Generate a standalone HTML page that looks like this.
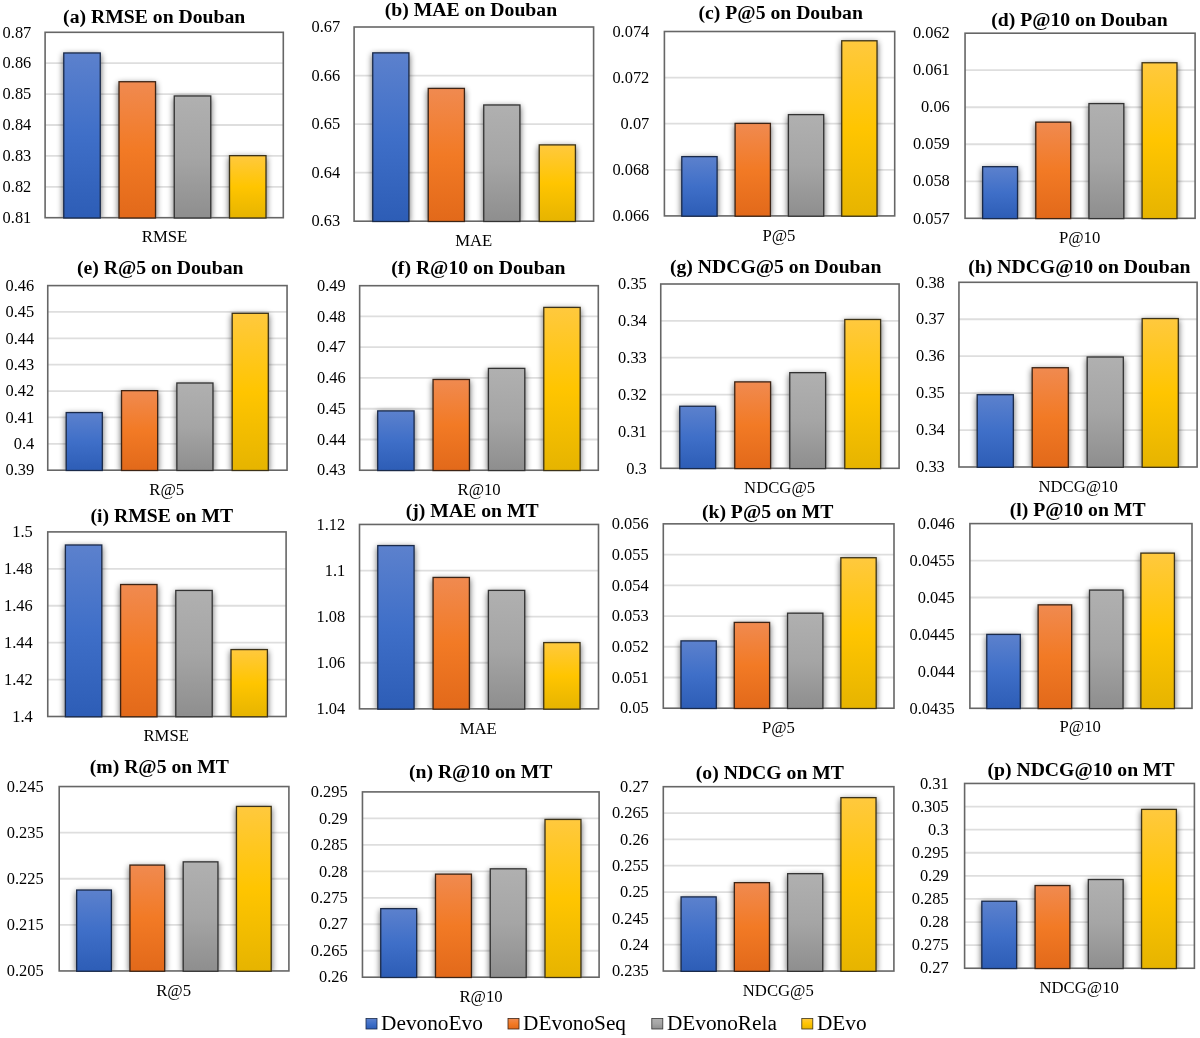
<!DOCTYPE html>
<html><head><meta charset="utf-8"><style>
html,body{margin:0;padding:0;background:#fff;}
svg{display:block;filter:blur(0.3px);}
text{font-family:"Liberation Serif",serif;fill:#000;}
.t{font-weight:bold;font-size:19.7px;}
.y{font-size:16.4px;fill:#000;}
.x{font-size:16.7px;fill:#000;}
.lg{font-size:21.3px;fill:#000;}
</style></head><body>
<svg width="1200" height="1038" viewBox="0 0 1200 1038">
<defs>
<filter id="sh" x="-40%" y="-20%" width="180%" height="140%">
<feGaussianBlur in="SourceAlpha" stdDeviation="3"/><feOffset dy="1.5"/>
<feComponentTransfer><feFuncA type="linear" slope="0.62"/></feComponentTransfer>
</filter>

<linearGradient id="g0" x1="0" y1="0" x2="0" y2="1"><stop offset="0" stop-color="#5c81cd"/><stop offset="0.5" stop-color="#3f6fc8"/><stop offset="1" stop-color="#2d5db6"/></linearGradient>
<linearGradient id="g1" x1="0" y1="0" x2="0" y2="1"><stop offset="0" stop-color="#f08a50"/><stop offset="0.5" stop-color="#f27a25"/><stop offset="1" stop-color="#e2691a"/></linearGradient>
<linearGradient id="g2" x1="0" y1="0" x2="0" y2="1"><stop offset="0" stop-color="#b0b0b0"/><stop offset="0.5" stop-color="#a5a5a5"/><stop offset="1" stop-color="#8e8e8e"/></linearGradient>
<linearGradient id="g3" x1="0" y1="0" x2="0" y2="1"><stop offset="0" stop-color="#ffc93e"/><stop offset="0.5" stop-color="#ffc500"/><stop offset="1" stop-color="#e6b400"/></linearGradient>
</defs>
<rect width="1200" height="1038" fill="#fff"/>
<clipPath id="ca"><rect x="45.1" y="32.3" width="238.2" height="185.4"/></clipPath>
<g><line x1="45.1" y1="186.8" x2="283.3" y2="186.8" stroke="#dedede" stroke-width="1.8"/><line x1="45.1" y1="155.9" x2="283.3" y2="155.9" stroke="#dedede" stroke-width="1.8"/><line x1="45.1" y1="125" x2="283.3" y2="125" stroke="#dedede" stroke-width="1.8"/><line x1="45.1" y1="94.1" x2="283.3" y2="94.1" stroke="#dedede" stroke-width="1.8"/><line x1="45.1" y1="63.2" x2="283.3" y2="63.2" stroke="#dedede" stroke-width="1.8"/><g clip-path="url(#ca)"><rect x="63.12" y="52.32" width="37.79" height="165.38" fill="#000" filter="url(#sh)"/><rect x="118.36" y="81.08" width="37.79" height="136.62" fill="#000" filter="url(#sh)"/><rect x="173.61" y="95.31" width="37.79" height="122.39" fill="#000" filter="url(#sh)"/><rect x="228.86" y="155.01" width="37.79" height="62.69" fill="#000" filter="url(#sh)"/></g>
<rect x="45.1" y="32.3" width="238.2" height="185.4" fill="none" stroke="#666" stroke-width="1.6"/>
<rect x="63.77" y="52.97" width="36.49" height="165.03" fill="url(#g0)" stroke="#1a2a4a" stroke-width="1.3"/><rect x="119.02" y="81.73" width="36.49" height="136.27" fill="url(#g1)" stroke="#3d2415" stroke-width="1.3"/><rect x="174.26" y="95.96" width="36.49" height="122.04" fill="url(#g2)" stroke="#333333" stroke-width="1.3"/><rect x="229.51" y="155.66" width="36.49" height="62.34" fill="url(#g3)" stroke="#3d3318" stroke-width="1.3"/></g>
<text class="y" x="31.3" y="222.9" text-anchor="end">0.81</text>
<text class="y" x="31.3" y="192" text-anchor="end">0.82</text>
<text class="y" x="31.3" y="161.1" text-anchor="end">0.83</text>
<text class="y" x="31.3" y="130.2" text-anchor="end">0.84</text>
<text class="y" x="31.3" y="99.3" text-anchor="end">0.85</text>
<text class="y" x="31.3" y="68.4" text-anchor="end">0.86</text>
<text class="y" x="31.3" y="37.5" text-anchor="end">0.87</text>
<text class="x" x="164.5" y="241.8" text-anchor="middle">RMSE</text>
<text class="t" x="154.2" y="22.7" text-anchor="middle">(a) RMSE on Douban</text>
<clipPath id="cb"><rect x="354.1" y="27" width="239.5" height="194.2"/></clipPath>
<g><line x1="354.1" y1="172.65" x2="593.6" y2="172.65" stroke="#dedede" stroke-width="1.8"/><line x1="354.1" y1="124.1" x2="593.6" y2="124.1" stroke="#dedede" stroke-width="1.8"/><line x1="354.1" y1="75.55" x2="593.6" y2="75.55" stroke="#dedede" stroke-width="1.8"/><g clip-path="url(#cb)"><rect x="372.09" y="52.21" width="37.47" height="168.99" fill="#000" filter="url(#sh)"/><rect x="427.59" y="87.76" width="37.47" height="133.44" fill="#000" filter="url(#sh)"/><rect x="483.09" y="104.32" width="37.47" height="116.88" fill="#000" filter="url(#sh)"/><rect x="538.59" y="144.25" width="37.47" height="76.95" fill="#000" filter="url(#sh)"/></g>
<rect x="354.1" y="27" width="239.5" height="194.2" fill="none" stroke="#666" stroke-width="1.6"/>
<rect x="372.74" y="52.86" width="36.17" height="168.64" fill="url(#g0)" stroke="#1a2a4a" stroke-width="1.3"/><rect x="428.24" y="88.41" width="36.17" height="133.09" fill="url(#g1)" stroke="#3d2415" stroke-width="1.3"/><rect x="483.74" y="104.97" width="36.17" height="116.53" fill="url(#g2)" stroke="#333333" stroke-width="1.3"/><rect x="539.24" y="144.9" width="36.17" height="76.6" fill="url(#g3)" stroke="#3d3318" stroke-width="1.3"/></g>
<text class="y" x="340.2" y="226.4" text-anchor="end">0.63</text>
<text class="y" x="340.2" y="177.85" text-anchor="end">0.64</text>
<text class="y" x="340.2" y="129.3" text-anchor="end">0.65</text>
<text class="y" x="340.2" y="80.75" text-anchor="end">0.66</text>
<text class="y" x="340.2" y="32.2" text-anchor="end">0.67</text>
<text class="x" x="473.75" y="246" text-anchor="middle">MAE</text>
<text class="t" x="470.95" y="15.8" text-anchor="middle">(b) MAE on Douban</text>
<clipPath id="cc"><rect x="664.4" y="31.5" width="230.3" height="184.4"/></clipPath>
<g><line x1="664.4" y1="169.8" x2="894.7" y2="169.8" stroke="#dedede" stroke-width="1.8"/><line x1="664.4" y1="123.7" x2="894.7" y2="123.7" stroke="#dedede" stroke-width="1.8"/><line x1="664.4" y1="77.6" x2="894.7" y2="77.6" stroke="#dedede" stroke-width="1.8"/><g clip-path="url(#cc)"><rect x="681.14" y="155.97" width="36.6" height="59.93" fill="#000" filter="url(#sh)"/><rect x="734.45" y="122.74" width="36.6" height="93.16" fill="#000" filter="url(#sh)"/><rect x="787.76" y="113.97" width="36.6" height="101.93" fill="#000" filter="url(#sh)"/><rect x="841.07" y="40.13" width="36.6" height="175.77" fill="#000" filter="url(#sh)"/></g>
<rect x="664.4" y="31.5" width="230.3" height="184.4" fill="none" stroke="#666" stroke-width="1.6"/>
<rect x="681.79" y="156.62" width="35.3" height="59.58" fill="url(#g0)" stroke="#1a2a4a" stroke-width="1.3"/><rect x="735.1" y="123.39" width="35.3" height="92.81" fill="url(#g1)" stroke="#3d2415" stroke-width="1.3"/><rect x="788.41" y="114.62" width="35.3" height="101.58" fill="url(#g2)" stroke="#333333" stroke-width="1.3"/><rect x="841.72" y="40.78" width="35.3" height="175.42" fill="url(#g3)" stroke="#3d3318" stroke-width="1.3"/></g>
<text class="y" x="649.3" y="221.1" text-anchor="end">0.066</text>
<text class="y" x="649.3" y="175" text-anchor="end">0.068</text>
<text class="y" x="649.3" y="128.9" text-anchor="end">0.07</text>
<text class="y" x="649.3" y="82.8" text-anchor="end">0.072</text>
<text class="y" x="649.3" y="36.7" text-anchor="end">0.074</text>
<text class="x" x="778.9" y="240.8" text-anchor="middle">P@5</text>
<text class="t" x="780.75" y="19.2" text-anchor="middle">(c) P@5 on Douban</text>
<clipPath id="cd"><rect x="965.05" y="33.2" width="230.05" height="185.1"/></clipPath>
<g><line x1="965.05" y1="181.28" x2="1195.1" y2="181.28" stroke="#dedede" stroke-width="1.8"/><line x1="965.05" y1="144.26" x2="1195.1" y2="144.26" stroke="#dedede" stroke-width="1.8"/><line x1="965.05" y1="107.24" x2="1195.1" y2="107.24" stroke="#dedede" stroke-width="1.8"/><line x1="965.05" y1="70.22" x2="1195.1" y2="70.22" stroke="#dedede" stroke-width="1.8"/><g clip-path="url(#cd)"><rect x="981.99" y="166.03" width="36.18" height="52.27" fill="#000" filter="url(#sh)"/><rect x="1035.14" y="121.49" width="36.18" height="96.81" fill="#000" filter="url(#sh)"/><rect x="1088.29" y="102.93" width="36.18" height="115.37" fill="#000" filter="url(#sh)"/><rect x="1141.44" y="62.1" width="36.18" height="156.2" fill="#000" filter="url(#sh)"/></g>
<rect x="965.05" y="33.2" width="230.05" height="185.1" fill="none" stroke="#666" stroke-width="1.6"/>
<rect x="982.64" y="166.68" width="34.88" height="51.92" fill="url(#g0)" stroke="#1a2a4a" stroke-width="1.3"/><rect x="1035.79" y="122.14" width="34.88" height="96.46" fill="url(#g1)" stroke="#3d2415" stroke-width="1.3"/><rect x="1088.94" y="103.58" width="34.88" height="115.02" fill="url(#g2)" stroke="#333333" stroke-width="1.3"/><rect x="1142.09" y="62.75" width="34.88" height="155.85" fill="url(#g3)" stroke="#3d3318" stroke-width="1.3"/></g>
<text class="y" x="949.8" y="223.5" text-anchor="end">0.057</text>
<text class="y" x="949.8" y="186.48" text-anchor="end">0.058</text>
<text class="y" x="949.8" y="149.46" text-anchor="end">0.059</text>
<text class="y" x="949.8" y="112.44" text-anchor="end">0.06</text>
<text class="y" x="949.8" y="75.42" text-anchor="end">0.061</text>
<text class="y" x="949.8" y="38.4" text-anchor="end">0.062</text>
<text class="x" x="1079.6" y="243" text-anchor="middle">P@10</text>
<text class="t" x="1079.4" y="25.5" text-anchor="middle">(d) P@10 on Douban</text>
<clipPath id="ce"><rect x="47.75" y="285.6" width="239.3" height="184.6"/></clipPath>
<g><line x1="47.75" y1="443.83" x2="287.05" y2="443.83" stroke="#dedede" stroke-width="1.8"/><line x1="47.75" y1="417.46" x2="287.05" y2="417.46" stroke="#dedede" stroke-width="1.8"/><line x1="47.75" y1="391.09" x2="287.05" y2="391.09" stroke="#dedede" stroke-width="1.8"/><line x1="47.75" y1="364.71" x2="287.05" y2="364.71" stroke="#dedede" stroke-width="1.8"/><line x1="47.75" y1="338.34" x2="287.05" y2="338.34" stroke="#dedede" stroke-width="1.8"/><line x1="47.75" y1="311.97" x2="287.05" y2="311.97" stroke="#dedede" stroke-width="1.8"/><g clip-path="url(#ce)"><rect x="65.56" y="411.92" width="37.4" height="58.28" fill="#000" filter="url(#sh)"/><rect x="120.89" y="390.01" width="37.4" height="80.19" fill="#000" filter="url(#sh)"/><rect x="176.22" y="382.35" width="37.4" height="87.85" fill="#000" filter="url(#sh)"/><rect x="231.55" y="312.66" width="37.4" height="157.54" fill="#000" filter="url(#sh)"/></g>
<rect x="47.75" y="285.6" width="239.3" height="184.6" fill="none" stroke="#666" stroke-width="1.6"/>
<rect x="66.21" y="412.57" width="36.1" height="57.93" fill="url(#g0)" stroke="#1a2a4a" stroke-width="1.3"/><rect x="121.54" y="390.66" width="36.1" height="79.84" fill="url(#g1)" stroke="#3d2415" stroke-width="1.3"/><rect x="176.87" y="383" width="36.1" height="87.5" fill="url(#g2)" stroke="#333333" stroke-width="1.3"/><rect x="232.2" y="313.31" width="36.1" height="157.19" fill="url(#g3)" stroke="#3d3318" stroke-width="1.3"/></g>
<text class="y" x="34.25" y="475.4" text-anchor="end">0.39</text>
<text class="y" x="34.25" y="449.03" text-anchor="end">0.4</text>
<text class="y" x="34.25" y="422.66" text-anchor="end">0.41</text>
<text class="y" x="34.25" y="396.29" text-anchor="end">0.42</text>
<text class="y" x="34.25" y="369.91" text-anchor="end">0.43</text>
<text class="y" x="34.25" y="343.54" text-anchor="end">0.44</text>
<text class="y" x="34.25" y="317.17" text-anchor="end">0.45</text>
<text class="y" x="34.25" y="290.8" text-anchor="end">0.46</text>
<text class="x" x="166.75" y="494.5" text-anchor="middle">R@5</text>
<text class="t" x="160.3" y="274" text-anchor="middle">(e) R@5 on Douban</text>
<clipPath id="cf"><rect x="359.65" y="285.7" width="238.65" height="184.55"/></clipPath>
<g><line x1="359.65" y1="439.49" x2="598.3" y2="439.49" stroke="#dedede" stroke-width="1.8"/><line x1="359.65" y1="408.73" x2="598.3" y2="408.73" stroke="#dedede" stroke-width="1.8"/><line x1="359.65" y1="377.97" x2="598.3" y2="377.97" stroke="#dedede" stroke-width="1.8"/><line x1="359.65" y1="347.22" x2="598.3" y2="347.22" stroke="#dedede" stroke-width="1.8"/><line x1="359.65" y1="316.46" x2="598.3" y2="316.46" stroke="#dedede" stroke-width="1.8"/><g clip-path="url(#cf)"><rect x="377.05" y="410.25" width="37.68" height="60" fill="#000" filter="url(#sh)"/><rect x="432.41" y="378.83" width="37.68" height="91.42" fill="#000" filter="url(#sh)"/><rect x="487.77" y="367.74" width="37.68" height="102.51" fill="#000" filter="url(#sh)"/><rect x="543.13" y="306.76" width="37.68" height="163.49" fill="#000" filter="url(#sh)"/></g>
<rect x="359.65" y="285.7" width="238.65" height="184.55" fill="none" stroke="#666" stroke-width="1.6"/>
<rect x="377.7" y="410.9" width="36.38" height="59.65" fill="url(#g0)" stroke="#1a2a4a" stroke-width="1.3"/><rect x="433.06" y="379.48" width="36.38" height="91.07" fill="url(#g1)" stroke="#3d2415" stroke-width="1.3"/><rect x="488.42" y="368.39" width="36.38" height="102.16" fill="url(#g2)" stroke="#333333" stroke-width="1.3"/><rect x="543.78" y="307.41" width="36.38" height="163.14" fill="url(#g3)" stroke="#3d3318" stroke-width="1.3"/></g>
<text class="y" x="345.7" y="475.45" text-anchor="end">0.43</text>
<text class="y" x="345.7" y="444.69" text-anchor="end">0.44</text>
<text class="y" x="345.7" y="413.93" text-anchor="end">0.45</text>
<text class="y" x="345.7" y="383.17" text-anchor="end">0.46</text>
<text class="y" x="345.7" y="352.42" text-anchor="end">0.47</text>
<text class="y" x="345.7" y="321.66" text-anchor="end">0.48</text>
<text class="y" x="345.7" y="290.9" text-anchor="end">0.49</text>
<text class="x" x="479.1" y="494.5" text-anchor="middle">R@10</text>
<text class="t" x="478.4" y="274.3" text-anchor="middle">(f) R@10 on Douban</text>
<clipPath id="cg"><rect x="660.75" y="284" width="238.35" height="184.3"/></clipPath>
<g><line x1="660.75" y1="431.44" x2="899.1" y2="431.44" stroke="#dedede" stroke-width="1.8"/><line x1="660.75" y1="394.58" x2="899.1" y2="394.58" stroke="#dedede" stroke-width="1.8"/><line x1="660.75" y1="357.72" x2="899.1" y2="357.72" stroke="#dedede" stroke-width="1.8"/><line x1="660.75" y1="320.86" x2="899.1" y2="320.86" stroke="#dedede" stroke-width="1.8"/><g clip-path="url(#cg)"><rect x="679.1" y="405.61" width="37.13" height="62.69" fill="#000" filter="url(#sh)"/><rect x="734.11" y="381.24" width="37.13" height="87.06" fill="#000" filter="url(#sh)"/><rect x="789.12" y="372.01" width="37.13" height="96.29" fill="#000" filter="url(#sh)"/><rect x="844.13" y="318.84" width="37.13" height="149.46" fill="#000" filter="url(#sh)"/></g>
<rect x="660.75" y="284" width="238.35" height="184.3" fill="none" stroke="#666" stroke-width="1.6"/>
<rect x="679.75" y="406.26" width="35.83" height="62.34" fill="url(#g0)" stroke="#1a2a4a" stroke-width="1.3"/><rect x="734.76" y="381.89" width="35.83" height="86.71" fill="url(#g1)" stroke="#3d2415" stroke-width="1.3"/><rect x="789.77" y="372.66" width="35.83" height="95.94" fill="url(#g2)" stroke="#333333" stroke-width="1.3"/><rect x="844.78" y="319.49" width="35.83" height="149.11" fill="url(#g3)" stroke="#3d3318" stroke-width="1.3"/></g>
<text class="y" x="646.8" y="473.5" text-anchor="end">0.3</text>
<text class="y" x="646.8" y="436.64" text-anchor="end">0.31</text>
<text class="y" x="646.8" y="399.78" text-anchor="end">0.32</text>
<text class="y" x="646.8" y="362.92" text-anchor="end">0.33</text>
<text class="y" x="646.8" y="326.06" text-anchor="end">0.34</text>
<text class="y" x="646.8" y="289.2" text-anchor="end">0.35</text>
<text class="x" x="779.6" y="492.7" text-anchor="middle">NDCG@5</text>
<text class="t" x="775.65" y="272.5" text-anchor="middle">(g) NDCG@5 on Douban</text>
<clipPath id="ch"><rect x="958.95" y="282.3" width="238.15" height="184.7"/></clipPath>
<g><line x1="958.95" y1="430.06" x2="1197.1" y2="430.06" stroke="#dedede" stroke-width="1.8"/><line x1="958.95" y1="393.12" x2="1197.1" y2="393.12" stroke="#dedede" stroke-width="1.8"/><line x1="958.95" y1="356.18" x2="1197.1" y2="356.18" stroke="#dedede" stroke-width="1.8"/><line x1="958.95" y1="319.24" x2="1197.1" y2="319.24" stroke="#dedede" stroke-width="1.8"/><g clip-path="url(#ch)"><rect x="976.56" y="394.06" width="37.42" height="72.94" fill="#000" filter="url(#sh)"/><rect x="1031.55" y="367.08" width="37.42" height="99.92" fill="#000" filter="url(#sh)"/><rect x="1086.54" y="356.36" width="37.42" height="110.64" fill="#000" filter="url(#sh)"/><rect x="1141.53" y="317.92" width="37.42" height="149.08" fill="#000" filter="url(#sh)"/></g>
<rect x="958.95" y="282.3" width="238.15" height="184.7" fill="none" stroke="#666" stroke-width="1.6"/>
<rect x="977.21" y="394.71" width="36.12" height="72.59" fill="url(#g0)" stroke="#1a2a4a" stroke-width="1.3"/><rect x="1032.2" y="367.73" width="36.12" height="99.57" fill="url(#g1)" stroke="#3d2415" stroke-width="1.3"/><rect x="1087.19" y="357.01" width="36.12" height="110.29" fill="url(#g2)" stroke="#333333" stroke-width="1.3"/><rect x="1142.18" y="318.57" width="36.12" height="148.73" fill="url(#g3)" stroke="#3d3318" stroke-width="1.3"/></g>
<text class="y" x="944.8" y="472.2" text-anchor="end">0.33</text>
<text class="y" x="944.8" y="435.26" text-anchor="end">0.34</text>
<text class="y" x="944.8" y="398.32" text-anchor="end">0.35</text>
<text class="y" x="944.8" y="361.38" text-anchor="end">0.36</text>
<text class="y" x="944.8" y="324.44" text-anchor="end">0.37</text>
<text class="y" x="944.8" y="287.5" text-anchor="end">0.38</text>
<text class="x" x="1078.1" y="491.8" text-anchor="middle">NDCG@10</text>
<text class="t" x="1079.4" y="272.5" text-anchor="middle">(h) NDCG@10 on Douban</text>
<clipPath id="ci"><rect x="47.75" y="531.9" width="238.35" height="184.6"/></clipPath>
<g><line x1="47.75" y1="679.58" x2="286.1" y2="679.58" stroke="#dedede" stroke-width="1.8"/><line x1="47.75" y1="642.66" x2="286.1" y2="642.66" stroke="#dedede" stroke-width="1.8"/><line x1="47.75" y1="605.74" x2="286.1" y2="605.74" stroke="#dedede" stroke-width="1.8"/><line x1="47.75" y1="568.82" x2="286.1" y2="568.82" stroke="#dedede" stroke-width="1.8"/><g clip-path="url(#ci)"><rect x="64.75" y="544.34" width="37.7" height="172.16" fill="#000" filter="url(#sh)"/><rect x="119.95" y="583.88" width="37.7" height="132.62" fill="#000" filter="url(#sh)"/><rect x="175.15" y="589.8" width="37.7" height="126.7" fill="#000" filter="url(#sh)"/><rect x="230.35" y="648.93" width="37.7" height="67.57" fill="#000" filter="url(#sh)"/></g>
<rect x="47.75" y="531.9" width="238.35" height="184.6" fill="none" stroke="#666" stroke-width="1.6"/>
<rect x="65.4" y="544.99" width="36.4" height="171.81" fill="url(#g0)" stroke="#1a2a4a" stroke-width="1.3"/><rect x="120.6" y="584.53" width="36.4" height="132.27" fill="url(#g1)" stroke="#3d2415" stroke-width="1.3"/><rect x="175.8" y="590.45" width="36.4" height="126.35" fill="url(#g2)" stroke="#333333" stroke-width="1.3"/><rect x="231" y="649.58" width="36.4" height="67.22" fill="url(#g3)" stroke="#3d3318" stroke-width="1.3"/></g>
<text class="y" x="32.7" y="721.7" text-anchor="end">1.4</text>
<text class="y" x="32.7" y="684.78" text-anchor="end">1.42</text>
<text class="y" x="32.7" y="647.86" text-anchor="end">1.44</text>
<text class="y" x="32.7" y="610.94" text-anchor="end">1.46</text>
<text class="y" x="32.7" y="574.02" text-anchor="end">1.48</text>
<text class="y" x="32.7" y="537.1" text-anchor="end">1.5</text>
<text class="x" x="166.2" y="741" text-anchor="middle">RMSE</text>
<text class="t" x="161.85" y="521.6" text-anchor="middle">(i) RMSE on MT</text>
<clipPath id="cj"><rect x="359.5" y="524.45" width="239" height="184.4"/></clipPath>
<g><line x1="359.5" y1="662.75" x2="598.5" y2="662.75" stroke="#dedede" stroke-width="1.8"/><line x1="359.5" y1="616.65" x2="598.5" y2="616.65" stroke="#dedede" stroke-width="1.8"/><line x1="359.5" y1="570.55" x2="598.5" y2="570.55" stroke="#dedede" stroke-width="1.8"/><g clip-path="url(#cj)"><rect x="377.12" y="544.92" width="37.6" height="163.93" fill="#000" filter="url(#sh)"/><rect x="432.44" y="576.8" width="37.6" height="132.05" fill="#000" filter="url(#sh)"/><rect x="487.76" y="589.74" width="37.6" height="119.11" fill="#000" filter="url(#sh)"/><rect x="543.08" y="641.94" width="37.6" height="66.91" fill="#000" filter="url(#sh)"/></g>
<rect x="359.5" y="524.45" width="239" height="184.4" fill="none" stroke="#666" stroke-width="1.6"/>
<rect x="377.77" y="545.57" width="36.3" height="163.58" fill="url(#g0)" stroke="#1a2a4a" stroke-width="1.3"/><rect x="433.09" y="577.45" width="36.3" height="131.7" fill="url(#g1)" stroke="#3d2415" stroke-width="1.3"/><rect x="488.41" y="590.39" width="36.3" height="118.76" fill="url(#g2)" stroke="#333333" stroke-width="1.3"/><rect x="543.73" y="642.59" width="36.3" height="66.56" fill="url(#g3)" stroke="#3d3318" stroke-width="1.3"/></g>
<text class="y" x="345.2" y="714.05" text-anchor="end">1.04</text>
<text class="y" x="345.2" y="667.95" text-anchor="end">1.06</text>
<text class="y" x="345.2" y="621.85" text-anchor="end">1.08</text>
<text class="y" x="345.2" y="575.75" text-anchor="end">1.1</text>
<text class="y" x="345.2" y="529.65" text-anchor="end">1.12</text>
<text class="x" x="478.25" y="734" text-anchor="middle">MAE</text>
<text class="t" x="472.2" y="516.5" text-anchor="middle">(j) MAE on MT</text>
<clipPath id="ck"><rect x="663.3" y="523.85" width="230.7" height="184.35"/></clipPath>
<g><line x1="663.3" y1="677.48" x2="894" y2="677.48" stroke="#dedede" stroke-width="1.8"/><line x1="663.3" y1="646.75" x2="894" y2="646.75" stroke="#dedede" stroke-width="1.8"/><line x1="663.3" y1="616.03" x2="894" y2="616.03" stroke="#dedede" stroke-width="1.8"/><line x1="663.3" y1="585.3" x2="894" y2="585.3" stroke="#dedede" stroke-width="1.8"/><line x1="663.3" y1="554.58" x2="894" y2="554.58" stroke="#dedede" stroke-width="1.8"/><g clip-path="url(#ck)"><rect x="680.33" y="640.24" width="36.63" height="67.96" fill="#000" filter="url(#sh)"/><rect x="733.62" y="621.76" width="36.63" height="86.44" fill="#000" filter="url(#sh)"/><rect x="786.91" y="612.52" width="36.63" height="95.68" fill="#000" filter="url(#sh)"/><rect x="840.2" y="557.08" width="36.63" height="151.12" fill="#000" filter="url(#sh)"/></g>
<rect x="663.3" y="523.85" width="230.7" height="184.35" fill="none" stroke="#666" stroke-width="1.6"/>
<rect x="680.98" y="640.89" width="35.33" height="67.61" fill="url(#g0)" stroke="#1a2a4a" stroke-width="1.3"/><rect x="734.27" y="622.41" width="35.33" height="86.09" fill="url(#g1)" stroke="#3d2415" stroke-width="1.3"/><rect x="787.56" y="613.17" width="35.33" height="95.33" fill="url(#g2)" stroke="#333333" stroke-width="1.3"/><rect x="840.85" y="557.73" width="35.33" height="150.77" fill="url(#g3)" stroke="#3d3318" stroke-width="1.3"/></g>
<text class="y" x="648.6" y="713.4" text-anchor="end">0.05</text>
<text class="y" x="648.6" y="682.68" text-anchor="end">0.051</text>
<text class="y" x="648.6" y="651.95" text-anchor="end">0.052</text>
<text class="y" x="648.6" y="621.23" text-anchor="end">0.053</text>
<text class="y" x="648.6" y="590.5" text-anchor="end">0.054</text>
<text class="y" x="648.6" y="559.78" text-anchor="end">0.055</text>
<text class="y" x="648.6" y="529.05" text-anchor="end">0.056</text>
<text class="x" x="778.4" y="732.5" text-anchor="middle">P@5</text>
<text class="t" x="767.65" y="518" text-anchor="middle">(k) P@5 on MT</text>
<clipPath id="cl"><rect x="969.9" y="523.6" width="222.1" height="184.7"/></clipPath>
<g><line x1="969.9" y1="671.36" x2="1192" y2="671.36" stroke="#dedede" stroke-width="1.8"/><line x1="969.9" y1="634.42" x2="1192" y2="634.42" stroke="#dedede" stroke-width="1.8"/><line x1="969.9" y1="597.48" x2="1192" y2="597.48" stroke="#dedede" stroke-width="1.8"/><line x1="969.9" y1="560.54" x2="1192" y2="560.54" stroke="#dedede" stroke-width="1.8"/><g clip-path="url(#cl)"><rect x="986.12" y="633.78" width="34.82" height="74.52" fill="#000" filter="url(#sh)"/><rect x="1037.49" y="604.21" width="34.82" height="104.09" fill="#000" filter="url(#sh)"/><rect x="1088.86" y="589.43" width="34.82" height="118.87" fill="#000" filter="url(#sh)"/><rect x="1140.23" y="552.47" width="34.82" height="155.83" fill="#000" filter="url(#sh)"/></g>
<rect x="969.9" y="523.6" width="222.1" height="184.7" fill="none" stroke="#666" stroke-width="1.6"/>
<rect x="986.77" y="634.43" width="33.52" height="74.17" fill="url(#g0)" stroke="#1a2a4a" stroke-width="1.3"/><rect x="1038.14" y="604.86" width="33.52" height="103.74" fill="url(#g1)" stroke="#3d2415" stroke-width="1.3"/><rect x="1089.51" y="590.08" width="33.52" height="118.52" fill="url(#g2)" stroke="#333333" stroke-width="1.3"/><rect x="1140.88" y="553.12" width="33.52" height="155.48" fill="url(#g3)" stroke="#3d3318" stroke-width="1.3"/></g>
<text class="y" x="954.6" y="713.5" text-anchor="end">0.0435</text>
<text class="y" x="954.6" y="676.56" text-anchor="end">0.044</text>
<text class="y" x="954.6" y="639.62" text-anchor="end">0.0445</text>
<text class="y" x="954.6" y="602.68" text-anchor="end">0.045</text>
<text class="y" x="954.6" y="565.74" text-anchor="end">0.0455</text>
<text class="y" x="954.6" y="528.8" text-anchor="end">0.046</text>
<text class="x" x="1080.25" y="732.4" text-anchor="middle">P@10</text>
<text class="t" x="1077.6" y="516" text-anchor="middle">(l) P@10 on MT</text>
<clipPath id="cm"><rect x="59.2" y="786.55" width="229.7" height="184.4"/></clipPath>
<g><line x1="59.2" y1="924.85" x2="288.9" y2="924.85" stroke="#dedede" stroke-width="1.8"/><line x1="59.2" y1="878.75" x2="288.9" y2="878.75" stroke="#dedede" stroke-width="1.8"/><line x1="59.2" y1="832.65" x2="288.9" y2="832.65" stroke="#dedede" stroke-width="1.8"/><g clip-path="url(#cm)"><rect x="76.02" y="889.39" width="36.03" height="81.56" fill="#000" filter="url(#sh)"/><rect x="129.29" y="864.44" width="36.03" height="106.51" fill="#000" filter="url(#sh)"/><rect x="182.56" y="861.21" width="36.03" height="109.74" fill="#000" filter="url(#sh)"/><rect x="235.82" y="805.77" width="36.03" height="165.18" fill="#000" filter="url(#sh)"/></g>
<rect x="59.2" y="786.55" width="229.7" height="184.4" fill="none" stroke="#666" stroke-width="1.6"/>
<rect x="76.67" y="890.04" width="34.73" height="81.21" fill="url(#g0)" stroke="#1a2a4a" stroke-width="1.3"/><rect x="129.94" y="865.09" width="34.73" height="106.16" fill="url(#g1)" stroke="#3d2415" stroke-width="1.3"/><rect x="183.21" y="861.86" width="34.73" height="109.39" fill="url(#g2)" stroke="#333333" stroke-width="1.3"/><rect x="236.47" y="806.42" width="34.73" height="164.83" fill="url(#g3)" stroke="#3d3318" stroke-width="1.3"/></g>
<text class="y" x="43.6" y="976.15" text-anchor="end">0.205</text>
<text class="y" x="43.6" y="930.05" text-anchor="end">0.215</text>
<text class="y" x="43.6" y="883.95" text-anchor="end">0.225</text>
<text class="y" x="43.6" y="837.85" text-anchor="end">0.235</text>
<text class="y" x="43.6" y="791.75" text-anchor="end">0.245</text>
<text class="x" x="173.6" y="995.6" text-anchor="middle">R@5</text>
<text class="t" x="159.3" y="773" text-anchor="middle">(m) R@5 on MT</text>
<clipPath id="cn"><rect x="362.45" y="791.9" width="236.65" height="185.3"/></clipPath>
<g><line x1="362.45" y1="950.73" x2="599.1" y2="950.73" stroke="#dedede" stroke-width="1.8"/><line x1="362.45" y1="924.26" x2="599.1" y2="924.26" stroke="#dedede" stroke-width="1.8"/><line x1="362.45" y1="897.79" x2="599.1" y2="897.79" stroke="#dedede" stroke-width="1.8"/><line x1="362.45" y1="871.31" x2="599.1" y2="871.31" stroke="#dedede" stroke-width="1.8"/><line x1="362.45" y1="844.84" x2="599.1" y2="844.84" stroke="#dedede" stroke-width="1.8"/><line x1="362.45" y1="818.37" x2="599.1" y2="818.37" stroke="#dedede" stroke-width="1.8"/><g clip-path="url(#cn)"><rect x="380.09" y="907.99" width="37.23" height="69.21" fill="#000" filter="url(#sh)"/><rect x="434.85" y="873.48" width="37.23" height="103.72" fill="#000" filter="url(#sh)"/><rect x="489.61" y="868.17" width="37.23" height="109.03" fill="#000" filter="url(#sh)"/><rect x="544.38" y="818.8" width="37.23" height="158.4" fill="#000" filter="url(#sh)"/></g>
<rect x="362.45" y="791.9" width="236.65" height="185.3" fill="none" stroke="#666" stroke-width="1.6"/>
<rect x="380.74" y="908.64" width="35.93" height="68.86" fill="url(#g0)" stroke="#1a2a4a" stroke-width="1.3"/><rect x="435.5" y="874.13" width="35.93" height="103.37" fill="url(#g1)" stroke="#3d2415" stroke-width="1.3"/><rect x="490.26" y="868.82" width="35.93" height="108.68" fill="url(#g2)" stroke="#333333" stroke-width="1.3"/><rect x="545.02" y="819.45" width="35.93" height="158.05" fill="url(#g3)" stroke="#3d3318" stroke-width="1.3"/></g>
<text class="y" x="347.7" y="982.4" text-anchor="end">0.26</text>
<text class="y" x="347.7" y="955.93" text-anchor="end">0.265</text>
<text class="y" x="347.7" y="929.46" text-anchor="end">0.27</text>
<text class="y" x="347.7" y="902.99" text-anchor="end">0.275</text>
<text class="y" x="347.7" y="876.51" text-anchor="end">0.28</text>
<text class="y" x="347.7" y="850.04" text-anchor="end">0.285</text>
<text class="y" x="347.7" y="823.57" text-anchor="end">0.29</text>
<text class="y" x="347.7" y="797.1" text-anchor="end">0.295</text>
<text class="x" x="481" y="1001.7" text-anchor="middle">R@10</text>
<text class="t" x="480.7" y="777.8" text-anchor="middle">(n) R@10 on MT</text>
<clipPath id="co"><rect x="663.3" y="786.7" width="230.6" height="184.35"/></clipPath>
<g><line x1="663.3" y1="944.71" x2="893.9" y2="944.71" stroke="#dedede" stroke-width="1.8"/><line x1="663.3" y1="918.38" x2="893.9" y2="918.38" stroke="#dedede" stroke-width="1.8"/><line x1="663.3" y1="892.04" x2="893.9" y2="892.04" stroke="#dedede" stroke-width="1.8"/><line x1="663.3" y1="865.71" x2="893.9" y2="865.71" stroke="#dedede" stroke-width="1.8"/><line x1="663.3" y1="839.37" x2="893.9" y2="839.37" stroke="#dedede" stroke-width="1.8"/><line x1="663.3" y1="813.04" x2="893.9" y2="813.04" stroke="#dedede" stroke-width="1.8"/><g clip-path="url(#co)"><rect x="680.43" y="896.25" width="36.4" height="74.8" fill="#000" filter="url(#sh)"/><rect x="733.71" y="882" width="36.4" height="89.05" fill="#000" filter="url(#sh)"/><rect x="786.99" y="873.02" width="36.4" height="98.03" fill="#000" filter="url(#sh)"/><rect x="840.27" y="796.99" width="36.4" height="174.06" fill="#000" filter="url(#sh)"/></g>
<rect x="663.3" y="786.7" width="230.6" height="184.35" fill="none" stroke="#666" stroke-width="1.6"/>
<rect x="681.08" y="896.9" width="35.1" height="74.45" fill="url(#g0)" stroke="#1a2a4a" stroke-width="1.3"/><rect x="734.36" y="882.65" width="35.1" height="88.7" fill="url(#g1)" stroke="#3d2415" stroke-width="1.3"/><rect x="787.64" y="873.67" width="35.1" height="97.68" fill="url(#g2)" stroke="#333333" stroke-width="1.3"/><rect x="840.92" y="797.64" width="35.1" height="173.71" fill="url(#g3)" stroke="#3d3318" stroke-width="1.3"/></g>
<text class="y" x="648.8" y="976.25" text-anchor="end">0.235</text>
<text class="y" x="648.8" y="949.91" text-anchor="end">0.24</text>
<text class="y" x="648.8" y="923.58" text-anchor="end">0.245</text>
<text class="y" x="648.8" y="897.24" text-anchor="end">0.25</text>
<text class="y" x="648.8" y="870.91" text-anchor="end">0.255</text>
<text class="y" x="648.8" y="844.57" text-anchor="end">0.26</text>
<text class="y" x="648.8" y="818.24" text-anchor="end">0.265</text>
<text class="y" x="648.8" y="791.9" text-anchor="end">0.27</text>
<text class="x" x="778.3" y="995.6" text-anchor="middle">NDCG@5</text>
<text class="t" x="769.9" y="779" text-anchor="middle">(o) NDCG on MT</text>
<clipPath id="cp"><rect x="964.6" y="783.45" width="229.8" height="184.8"/></clipPath>
<g><line x1="964.6" y1="945.15" x2="1194.4" y2="945.15" stroke="#dedede" stroke-width="1.8"/><line x1="964.6" y1="922.05" x2="1194.4" y2="922.05" stroke="#dedede" stroke-width="1.8"/><line x1="964.6" y1="898.95" x2="1194.4" y2="898.95" stroke="#dedede" stroke-width="1.8"/><line x1="964.6" y1="875.85" x2="1194.4" y2="875.85" stroke="#dedede" stroke-width="1.8"/><line x1="964.6" y1="852.75" x2="1194.4" y2="852.75" stroke="#dedede" stroke-width="1.8"/><line x1="964.6" y1="829.65" x2="1194.4" y2="829.65" stroke="#dedede" stroke-width="1.8"/><line x1="964.6" y1="806.55" x2="1194.4" y2="806.55" stroke="#dedede" stroke-width="1.8"/><g clip-path="url(#cp)"><rect x="981.18" y="900.58" width="36.1" height="67.67" fill="#000" filter="url(#sh)"/><rect x="1034.43" y="884.89" width="36.1" height="83.36" fill="#000" filter="url(#sh)"/><rect x="1087.68" y="878.89" width="36.1" height="89.36" fill="#000" filter="url(#sh)"/><rect x="1140.93" y="808.74" width="36.1" height="159.51" fill="#000" filter="url(#sh)"/></g>
<rect x="964.6" y="783.45" width="229.8" height="184.8" fill="none" stroke="#666" stroke-width="1.6"/>
<rect x="981.83" y="901.23" width="34.8" height="67.32" fill="url(#g0)" stroke="#1a2a4a" stroke-width="1.3"/><rect x="1035.08" y="885.54" width="34.8" height="83.01" fill="url(#g1)" stroke="#3d2415" stroke-width="1.3"/><rect x="1088.33" y="879.54" width="34.8" height="89.01" fill="url(#g2)" stroke="#333333" stroke-width="1.3"/><rect x="1141.58" y="809.39" width="34.8" height="159.16" fill="url(#g3)" stroke="#3d3318" stroke-width="1.3"/></g>
<text class="y" x="948.6" y="973.45" text-anchor="end">0.27</text>
<text class="y" x="948.6" y="950.35" text-anchor="end">0.275</text>
<text class="y" x="948.6" y="927.25" text-anchor="end">0.28</text>
<text class="y" x="948.6" y="904.15" text-anchor="end">0.285</text>
<text class="y" x="948.6" y="881.05" text-anchor="end">0.29</text>
<text class="y" x="948.6" y="857.95" text-anchor="end">0.295</text>
<text class="y" x="948.6" y="834.85" text-anchor="end">0.3</text>
<text class="y" x="948.6" y="811.75" text-anchor="end">0.305</text>
<text class="y" x="948.6" y="788.65" text-anchor="end">0.31</text>
<text class="x" x="1079.2" y="992.5" text-anchor="middle">NDCG@10</text>
<text class="t" x="1081.1" y="775.8" text-anchor="middle">(p) NDCG@10 on MT</text>
<rect x="366" y="1018.5" width="11" height="10.5" fill="url(#g0)" stroke="#1a2a4a" stroke-width="0.8"/>
<text class="lg" x="381.1" y="1029.8">DevonoEvo</text>
<rect x="508" y="1018.5" width="11" height="10.5" fill="url(#g1)" stroke="#3d2415" stroke-width="0.8"/>
<text class="lg" x="523.1" y="1029.8">DEvonoSeq</text>
<rect x="651.8" y="1018.5" width="11" height="10.5" fill="url(#g2)" stroke="#333333" stroke-width="0.8"/>
<text class="lg" x="666.9" y="1029.8">DEvonoRela</text>
<rect x="801.8" y="1018.5" width="11" height="10.5" fill="url(#g3)" stroke="#3d3318" stroke-width="0.8"/>
<text class="lg" x="816.9" y="1029.8">DEvo</text>
</svg>
</body></html>
